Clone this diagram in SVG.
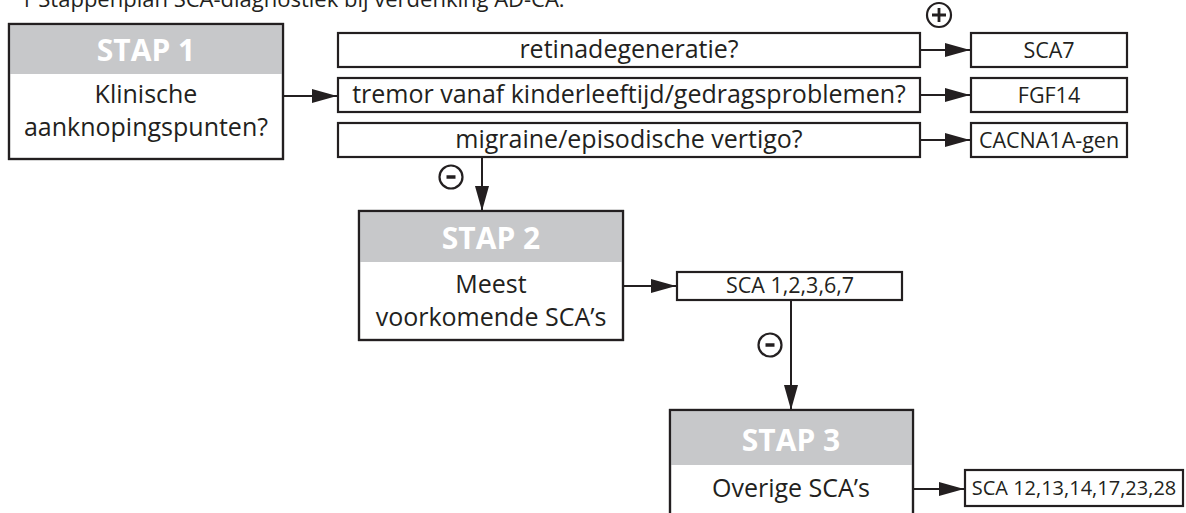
<svg xmlns="http://www.w3.org/2000/svg" width="1186" height="513" viewBox="0 0 1186 513">
<defs>
<style>
text{font-family:"Open Sans","Liberation Sans",sans-serif;fill:#231f20;text-anchor:middle}
.box{fill:#fff;stroke:#231f20;stroke-width:2.2}
.hdr{fill:#c7c8ca;stroke:none}
.frame{fill:none;stroke:#231f20;stroke-width:2.2}
.stap{font-weight:bold;font-size:30px;fill:#fff}
.body{font-size:25px}
.res{font-size:21.5px}
.res2{font-size:20px}
.title{font-size:22px;text-anchor:start}
.conn{fill:none;stroke:#231f20;stroke-width:2}
.sym{fill:none;stroke:#231f20;stroke-width:2.2}
</style>
<marker id="arr" markerUnits="userSpaceOnUse" markerWidth="26" markerHeight="14" refX="25" refY="7" orient="auto">
<path d="M0,0 L25,7 L0,14 Z" fill="#231f20"/>
</marker>
</defs>
<text class="title" x="20" y="7">1 Stappenplan SCA-diagnostiek bij verdenking AD-CA.</text>

<g id="connectors">
<line class="conn" x1="283" y1="96" x2="337" y2="96" marker-end="url(#arr)"/>
<line class="conn" x1="920" y1="50" x2="970" y2="50" marker-end="url(#arr)"/>
<line class="conn" x1="920" y1="95" x2="970" y2="95" marker-end="url(#arr)"/>
<line class="conn" x1="920" y1="140" x2="970" y2="140" marker-end="url(#arr)"/>
<line class="conn" x1="482" y1="157" x2="482" y2="211" marker-end="url(#arr)"/>
<line class="conn" x1="623" y1="286" x2="676" y2="286" marker-end="url(#arr)"/>
<line class="conn" x1="791" y1="300" x2="791" y2="410" marker-end="url(#arr)"/>
<line class="conn" x1="913" y1="489" x2="964" y2="489" marker-end="url(#arr)"/>
<g id="plus">
<circle class="sym" cx="939" cy="15" r="12"/>
<path d="M932,15 H946 M939,8 V22" stroke="#231f20" stroke-width="2.8"/>
</g>
<g id="minus1">
<circle class="sym" cx="451" cy="177" r="11.5"/>
<path d="M446.5,177 H455.5" stroke="#231f20" stroke-width="3.5"/>
</g>
<g id="minus2">
<circle class="sym" cx="770" cy="345" r="11.5"/>
<path d="M765.5,345 H774.5" stroke="#231f20" stroke-width="3.5"/>
</g>
</g>

<g id="stap1">
<rect class="box" x="9" y="24" width="274" height="135"/>
<rect class="hdr" x="10" y="25" width="272" height="49"/>
<rect class="frame" x="9" y="24" width="274" height="135"/>
<text class="stap" x="146" y="61">STAP 1</text>
<text class="body" x="146" y="103">Klinische</text>
<text class="body" x="146" y="136">aanknopingspunten?</text>
</g>

<g id="q1">
<rect class="box" x="338" y="33" width="582" height="34"/>
<text class="body" x="629" y="58">retinadegeneratie?</text>
</g>
<g id="q2">
<rect class="box" x="338" y="78" width="582" height="34"/>
<text class="body" x="629" y="103">tremor vanaf kinderleeftijd/gedragsproblemen?</text>
</g>
<g id="q3">
<rect class="box" x="338" y="123" width="582" height="34"/>
<text class="body" x="629" y="148">migraine/episodische vertigo?</text>
</g>

<g id="r1">
<rect class="box" x="971" y="33" width="156" height="34"/>
<text class="res" x="1049" y="57.5">SCA7</text>
</g>
<g id="r2">
<rect class="box" x="971" y="78" width="156" height="34"/>
<text class="res" x="1049" y="102.5">FGF14</text>
</g>
<g id="r3">
<rect class="box" x="971" y="123" width="156" height="34"/>
<text class="res" x="1049" y="147.5">CACNA1A-gen</text>
</g>

<g id="stap2">
<rect class="box" x="359" y="211" width="264" height="129"/>
<rect class="hdr" x="360" y="212" width="262" height="50"/>
<rect class="frame" x="359" y="211" width="264" height="129"/>
<text class="stap" x="491" y="249">STAP 2</text>
<text class="body" x="491" y="293">Meest</text>
<text class="body" x="491" y="326">voorkomende SCA’s</text>
</g>

<g id="r4">
<rect class="box" x="677" y="272" width="225" height="28"/>
<text class="res" x="790" y="293">SCA 1,2,3,6,7</text>
</g>

<g id="stap3">
<rect class="box" x="670" y="410" width="243" height="110"/>
<rect class="hdr" x="671" y="411" width="241" height="54"/>
<rect class="frame" x="670" y="410" width="243" height="110"/>
<text class="stap" x="791" y="451">STAP 3</text>
<text class="body" x="791" y="497">Overige SCA’s</text>
</g>

<g id="r5">
<rect class="box" x="965" y="470" width="218" height="36"/>
<text class="res2" x="1074" y="495">SCA 12,13,14,17,23,28</text>
</g>
</svg>
